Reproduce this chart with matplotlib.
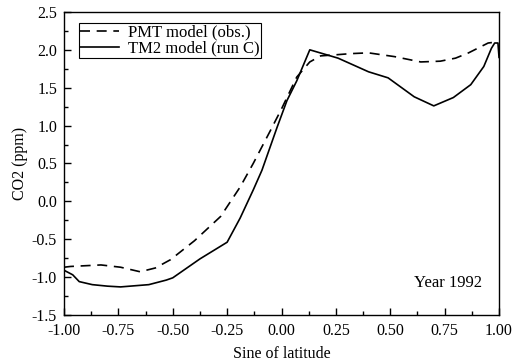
import numpy as np
import matplotlib
matplotlib.use("Agg")
import matplotlib.pyplot as plt
from matplotlib.ticker import MultipleLocator, FormatStrFormatter

# PMT model (observations), dashed
pmt_x = [-1.00, -0.97, -0.83, -0.74, -0.65, -0.58, -0.51, -0.40, -0.28, -0.19,
         -0.13, -0.05, 0.00, 0.07, 0.13, 0.18, 0.23, 0.32, 0.40, 0.52, 0.64,
         0.73, 0.80, 0.86, 0.95, 0.98, 0.995]
pmt_y = [-0.87, -0.86, -0.84, -0.87, -0.93, -0.88, -0.77, -0.52, -0.20, 0.19,
         0.50, 0.94, 1.22, 1.64, 1.84, 1.92, 1.93, 1.95, 1.96, 1.91, 1.84,
         1.85, 1.89, 1.96, 2.09, 2.10, 2.08]

# TM2 model (run C), solid
tm2_x = [-1.00, -0.96, -0.93, -0.87, -0.80, -0.74, -0.61, -0.53, -0.50, -0.375,
         -0.25, -0.19, -0.13, -0.09, -0.02, 0.025, 0.07, 0.13, 0.26, 0.40, 0.49,
         0.61, 0.70, 0.79, 0.87, 0.93, 0.965, 0.98, 0.995, 1.00]
tm2_y = [-0.91, -0.97, -1.06, -1.10, -1.12, -1.13, -1.10, -1.04, -1.01, -0.76,
         -0.54, -0.22, 0.15, 0.41, 0.98, 1.33, 1.59, 2.00, 1.89, 1.71, 1.63,
         1.38, 1.26, 1.37, 1.54, 1.78, 2.02, 2.09, 2.09, 1.90]

x_ticks = [-1.00, -0.75, -0.50, -0.25, 0.00, 0.25, 0.50, 0.75, 1.00]
y_ticks = [-1.5, -1.0, -0.5, 0.0, 0.5, 1.0, 1.5, 2.0, 2.5]

plt.rcParams['font.family'] = ['Liberation Serif', 'DejaVu Serif']

fig = plt.figure(figsize=(5.22, 3.62), dpi=100)
ax = fig.add_axes([0.1226, 0.130, 0.8334, 0.837])

ax.plot(pmt_x, pmt_y, color='black', lw=1.2, dashes=(6, 4), label='PMT model (obs.)')
ax.plot(tm2_x, tm2_y, color='black', lw=1.2, label='TM2 model (run C)')

ax.set_xlim(-1.0, 1.0)
ax.set_ylim(-1.5, 2.5)
ax.set_xticks(x_ticks)
ax.set_yticks(y_ticks)
ax.xaxis.set_major_formatter(FormatStrFormatter('%.2f'))
ax.yaxis.set_major_formatter(FormatStrFormatter('%.1f'))
ax.xaxis.set_minor_locator(MultipleLocator(0.125))
ax.yaxis.set_minor_locator(MultipleLocator(0.25))
ax.tick_params(which='both', direction='in', top=False, right=False,
               labelsize=11.5, width=1.0)
ax.tick_params(axis='x', pad=5.5)
ax.tick_params(axis='y', pad=5)
ax.tick_params(which='major', length=5)
ax.tick_params(which='minor', length=3)
for s in ax.spines.values():
    s.set_linewidth(1.0)

ax.set_xlabel('Sine of latitude', fontsize=11.5, labelpad=5)
ax.set_ylabel('CO2 (ppm)', fontsize=11.5, labelpad=3)

ax.text(0.92, -1.08, 'Year 1992', fontsize=12, ha='right', va='center')

leg = ax.legend(loc='upper left', bbox_to_anchor=(0.034, 0.964), fontsize=12,
                frameon=True, fancybox=False, edgecolor='black', framealpha=1,
                borderpad=0.1, labelspacing=0.0, handlelength=2.3,
                handletextpad=0.55, borderaxespad=0.0)
leg.get_frame().set_linewidth(0.8)

fig.savefig('out.png', dpi=100)
